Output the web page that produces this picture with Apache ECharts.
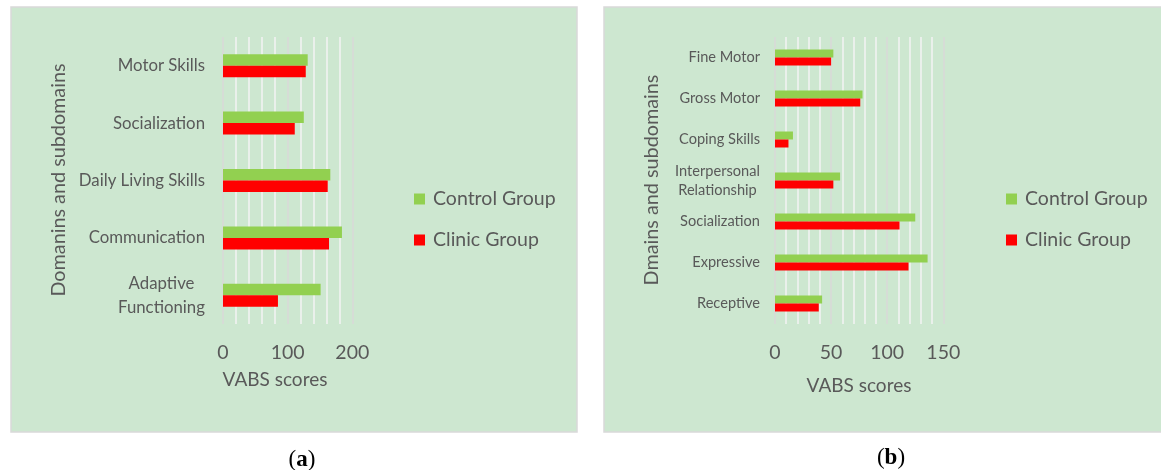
<!DOCTYPE html>
<html>
<head>
<meta charset="utf-8">
<script src="https://cdn.jsdelivr.net/npm/echarts@6/dist/echarts.min.js"></script>
<style>
html,body{margin:0;padding:0;background:#fff;}
#c{width:1161px;height:470px;}
</style>
</head>
<body>
<div id="c"></div>
<script>
// ---- data (categories listed bottom to top) ----
const categoriesA = ['Adaptive\nFunctioning', 'Communication', 'Daily Living Skills', 'Socialization', 'Motor Skills'];
const controlA = [151, 184, 166, 125, 131];
const clinicA  = [85, 164, 162, 111, 128];

const categoriesB = ['Receptive', 'Expressive', 'Socialization', 'Interpersonal\nRelationship', 'Coping Skills', 'Gross Motor', 'Fine Motor'];
const controlB = [42, 136, 125, 58, 16, 78, 52];
const clinicB  = [39, 119, 111, 52, 12, 76, 50];

const ticksA = [0, 100, 200];
const ticksB = [0, 50, 100, 150];

const seriesNames = ['Control Group', 'Clinic Group'];
const axisTitleX = 'VABS scores';
const axisTitleYA = 'Domanins and subdomains';
const axisTitleYB = 'Dmains and subdomains';
const captions = ['a', 'b'];

// ---- styling ----
const FONT = 'Lato';
const TXT = '#595959';
const GREEN = '#92D050';
const RED = '#FF0000';
const PANEL_BG = '#CDE7D0';

const mctx = document.createElement('canvas').getContext('2d');
function centeredLines(val) {
  if (val.indexOf('\n') < 0) return val;
  return val.split('\n').map(l => '{c|' + l + '}').join('\n');
}
function richFor(cats, fontSize, lh) {
  mctx.font = fontSize + 'px ' + FONT;
  let w = 0;
  cats.forEach(c => { if (c.indexOf('\n') >= 0) c.split('\n').forEach(l => { w = Math.max(w, mctx.measureText(l).width); }); });
  return { c: { width: Math.ceil(w), align: 'center', fontSize: fontSize, lineHeight: lh, color: TXT, fontFamily: FONT } };
}

const chart = echarts.init(document.getElementById('c'), null, { renderer: 'canvas', width: 1161, height: 470 });

function xAxisFor(gridIndex, max, interval) {
  return {
    type: 'value', gridIndex: gridIndex, min: 0, max: max, interval: interval,
    axisLine: { show: false }, axisTick: { show: false },
    axisLabel: { color: TXT, fontSize: 19.5, fontFamily: FONT, margin: 19 },
    splitLine: { show: true, lineStyle: { color: '#D9D9D9', width: 1.5 } },
    minorTick: { show: false, splitNumber: 5 },
    minorSplitLine: { show: true, lineStyle: { color: '#F4F4F4', width: 1.5 } }
  };
}
function yAxisFor(gridIndex, cats, fontSize, lh, margin) {
  return {
    type: 'category', gridIndex: gridIndex, data: cats,
    axisLine: { show: false }, axisTick: { show: false },
    axisLabel: {
      color: TXT, fontSize: fontSize, lineHeight: lh, fontFamily: FONT, margin: margin,
      formatter: centeredLines, rich: richFor(cats, fontSize, lh)
    },
    splitLine: { show: false }
  };
}

function legendAt(left) {
  return { data: seriesNames, orient: 'vertical', left: left, top: 184, itemWidth: 11, itemHeight: 11, itemGap: 21, icon: 'rect',
    textStyle: { color: TXT, fontSize: 19.5, fontFamily: FONT, padding: [0, 0, 0, 3] }, selectedMode: false };
}
function captionAt(letter, x, y) {
  return { text: '({b|' + letter + '})', left: x, top: y, textAlign: 'center', textVerticalAlign: 'middle',
    textStyle: { color: '#000', fontSize: 23, fontFamily: 'Liberation Serif', fontWeight: 'normal',
      rich: { b: { fontWeight: 'bold', fontSize: 23, fontFamily: 'Liberation Serif', color: '#000' } } } };
}

const option = {
  backgroundColor: '#ffffff',
  animation: false,
  textStyle: { fontFamily: FONT },
  graphic: [
    { type: 'rect', shape: { x: 11, y: 7, width: 566, height: 425 }, style: { fill: PANEL_BG, stroke: '#D9D9D9', lineWidth: 1.5 }, z: -10 },
    { type: 'rect', shape: { x: 604, y: 7, width: 570, height: 425 }, style: { fill: PANEL_BG, stroke: '#D9D9D9', lineWidth: 1.5 }, z: -10 },
    { type: 'text', x: 275, y: 380, style: { text: axisTitleX, fill: TXT, font: '19px ' + FONT, align: 'center', verticalAlign: 'middle' } },
    { type: 'text', x: 859, y: 386, style: { text: axisTitleX, fill: TXT, font: '19px ' + FONT, align: 'center', verticalAlign: 'middle' } },
    { type: 'text', x: 59, y: 180, rotation: Math.PI / 2, style: { text: axisTitleYA, fill: TXT, font: '19.8px ' + FONT, align: 'center', verticalAlign: 'middle' } },
    { type: 'text', x: 652, y: 180, rotation: Math.PI / 2, style: { text: axisTitleYB, fill: TXT, font: '19.8px ' + FONT, align: 'center', verticalAlign: 'middle' } }
  ],
  title: [ captionAt(captions[0], 297, 455), captionAt(captions[1], 886, 453) ],
  legend: [ legendAt(409), legendAt(1001) ],
  grid: [
    { left: 223, top: 37, width: 129.3, height: 287, containLabel: false },
    { left: 775, top: 37, width: 168.3, height: 287, containLabel: false }
  ],
  xAxis: [ xAxisFor(0, ticksA[ticksA.length - 1], ticksA[1] - ticksA[0]), xAxisFor(1, ticksB[ticksB.length - 1], ticksB[1] - ticksB[0]) ],
  yAxis: [ yAxisFor(0, categoriesA, 16.8, 24, 18), yAxisFor(1, categoriesB, 14.6, 19, 15) ],
  series: [
    { name: seriesNames[0], type: 'bar', xAxisIndex: 0, yAxisIndex: 0, data: controlA, barWidth: 11.5, barGap: '0%', itemStyle: { color: GREEN } },
    { name: seriesNames[1], type: 'bar', xAxisIndex: 0, yAxisIndex: 0, data: clinicA, barWidth: 11.5, barGap: '0%', itemStyle: { color: RED } },
    { name: seriesNames[0], type: 'bar', xAxisIndex: 1, yAxisIndex: 1, data: controlB, barWidth: 8, barGap: '0%', itemStyle: { color: GREEN } },
    { name: seriesNames[1], type: 'bar', xAxisIndex: 1, yAxisIndex: 1, data: clinicB, barWidth: 8, barGap: '0%', itemStyle: { color: RED } }
  ]
};
chart.setOption(option);
</script>
</body>
</html>
